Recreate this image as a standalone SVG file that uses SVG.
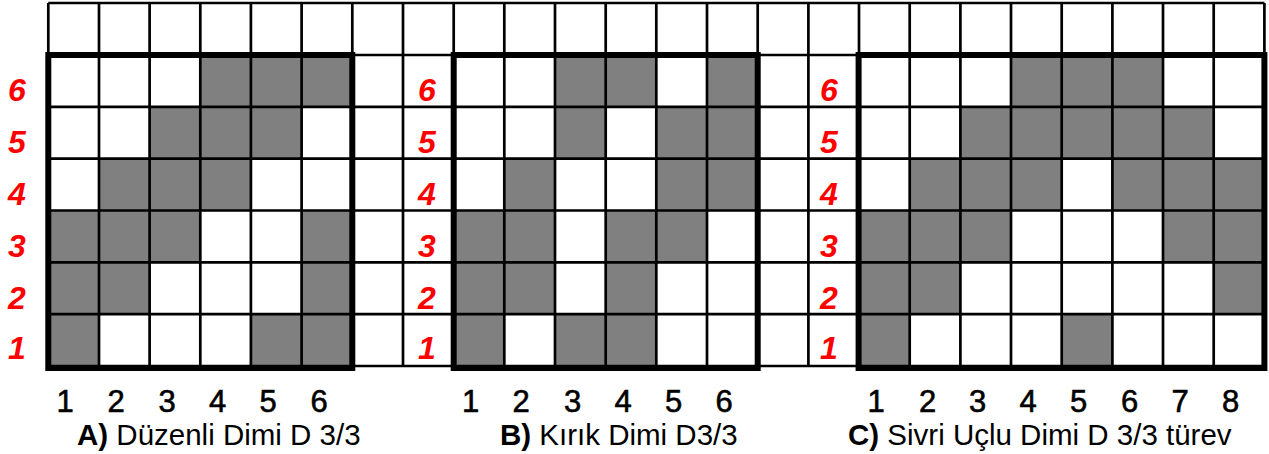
<svg xmlns="http://www.w3.org/2000/svg" width="1269" height="454" viewBox="0 0 1269 454">
<style>
.bg{fill:#ffffff}
.on{fill:#808080}
.grid{stroke:#000;stroke-width:2.7;fill:none}
.thick{stroke:#000;stroke-width:6;fill:none}
.rl{font-family:"Liberation Sans",Arial,sans-serif;font-size:32px;font-weight:bold;font-style:italic;fill:#ff0000;text-anchor:middle}
.cn{font-family:"Liberation Sans",Arial,sans-serif;font-size:31px;fill:#000;text-anchor:middle;stroke:#000;stroke-width:0.6}
.cap{font-family:"Liberation Sans",Arial,sans-serif;font-size:29.5px;fill:#000}
.b{font-weight:bold}
</style>
<rect class="bg" x="0" y="0" width="1269" height="454"/>

<g id="panelA">
  <rect class="on" x="200.3" y="55" width="152" height="51.8"/>
  <rect class="on" x="149.6" y="106.8" width="152" height="51.9"/>
  <rect class="on" x="99" y="158.7" width="152" height="51.8"/>
  <rect class="on" x="48.3" y="210.5" width="152" height="51.8"/>
  <rect class="on" x="301.6" y="210.5" width="50.7" height="51.8"/>
  <rect class="on" x="48.3" y="262.3" width="101.3" height="51.9"/>
  <rect class="on" x="301.6" y="262.3" width="50.7" height="51.9"/>
  <rect class="on" x="48.3" y="314.2" width="50.7" height="51.8"/>
  <rect class="on" x="250.9" y="314.2" width="101.4" height="51.8"/>
</g>

<g id="panelB">
  <rect class="on" x="555" y="55" width="101.3" height="51.8"/>
  <rect class="on" x="707" y="55" width="50.7" height="51.8"/>
  <rect class="on" x="555" y="106.8" width="50.7" height="51.9"/>
  <rect class="on" x="656.3" y="106.8" width="101.4" height="51.9"/>
  <rect class="on" x="504.3" y="158.7" width="50.7" height="51.8"/>
  <rect class="on" x="656.3" y="158.7" width="101.4" height="51.8"/>
  <rect class="on" x="453.7" y="210.5" width="101.3" height="51.8"/>
  <rect class="on" x="605.7" y="210.5" width="101.3" height="51.8"/>
  <rect class="on" x="453.7" y="262.3" width="101.3" height="51.9"/>
  <rect class="on" x="605.7" y="262.3" width="50.6" height="51.9"/>
  <rect class="on" x="453.7" y="314.2" width="50.6" height="51.8"/>
  <rect class="on" x="555" y="314.2" width="101.3" height="51.8"/>
</g>

<g id="panelC">
  <rect class="on" x="1010.4" y="55" width="152" height="51.8"/>
  <rect class="on" x="959.7" y="106.8" width="253.3" height="51.9"/>
  <rect class="on" x="909" y="158.7" width="152" height="51.8"/>
  <rect class="on" x="1111.7" y="158.7" width="152.7" height="51.8"/>
  <rect class="on" x="858.4" y="210.5" width="152" height="51.8"/>
  <rect class="on" x="1162.4" y="210.5" width="102" height="51.8"/>
  <rect class="on" x="858.4" y="262.3" width="101.3" height="51.9"/>
  <rect class="on" x="1213" y="262.3" width="51.4" height="51.9"/>
  <rect class="on" x="858.4" y="314.2" width="50.6" height="51.8"/>
  <rect class="on" x="1061" y="314.2" width="50.7" height="51.8"/>
</g>

<g id="grid">
  <path class="grid" d="M48.3 3H1264.4 M48.3 106.8H1264.4 M48.3 158.7H1264.4 M48.3 210.5H1264.4 M48.3 262.3H1264.4 M48.3 314.2H1264.4 M48.3 366H1264.4"/>
  <path class="grid" d="M48.3 3V366 M99 3V366 M149.6 3V366 M200.3 3V366 M250.9 3V366 M301.6 3V366 M352.3 3V366 M403 3V366 M453.7 3V366 M504.3 3V366 M555 3V366 M605.7 3V366 M656.3 3V366 M707 3V366 M757.7 3V366 M808.4 3V366 M859 3V366 M909.7 3V366 M960.4 3V366 M1011 3V366 M1061.7 3V366 M1112.4 3V366 M1163 3V366 M1213.7 3V366 M1264.4 3V366"/>
  <path class="grid" d="M48.3 55H1264.4"/>
</g>

<g id="frames">
  <rect class="thick" x="48.3" y="55" width="304" height="313"/>
  <rect class="thick" x="453.7" y="55" width="304" height="313"/>
  <rect class="thick" x="858.6" y="55" width="405.8" height="313"/>
</g>

<g id="rowlabels">
  <text class="rl" x="17" y="101">6</text>
  <text class="rl" x="17" y="153">5</text>
  <text class="rl" x="17" y="205">4</text>
  <text class="rl" x="17" y="257">3</text>
  <text class="rl" x="17" y="309">2</text>
  <text class="rl" x="17" y="359">1</text>
  <text class="rl" x="427" y="101">6</text>
  <text class="rl" x="427" y="153">5</text>
  <text class="rl" x="427" y="205">4</text>
  <text class="rl" x="427" y="257">3</text>
  <text class="rl" x="427" y="309">2</text>
  <text class="rl" x="427" y="359">1</text>
  <text class="rl" x="829" y="101">6</text>
  <text class="rl" x="829" y="153">5</text>
  <text class="rl" x="829" y="205">4</text>
  <text class="rl" x="829" y="257">3</text>
  <text class="rl" x="829" y="309">2</text>
  <text class="rl" x="829" y="359">1</text>
</g>

<g id="colnumbers">
  <text class="cn" x="65" y="412">1</text>
  <text class="cn" x="116" y="412">2</text>
  <text class="cn" x="167" y="412">3</text>
  <text class="cn" x="217.5" y="412">4</text>
  <text class="cn" x="268" y="412">5</text>
  <text class="cn" x="319" y="412">6</text>
  <text class="cn" x="470.5" y="412">1</text>
  <text class="cn" x="521" y="412">2</text>
  <text class="cn" x="572.5" y="412">3</text>
  <text class="cn" x="623" y="412">4</text>
  <text class="cn" x="673.5" y="412">5</text>
  <text class="cn" x="724" y="412">6</text>
  <text class="cn" x="876" y="412">1</text>
  <text class="cn" x="927.5" y="412">2</text>
  <text class="cn" x="977.5" y="412">3</text>
  <text class="cn" x="1028" y="412">4</text>
  <text class="cn" x="1078.5" y="412">5</text>
  <text class="cn" x="1129.5" y="412">6</text>
  <text class="cn" x="1180" y="412">7</text>
  <text class="cn" x="1230.5" y="412">8</text>
</g>

<g id="captions">
  <text class="cap" x="77" y="445"><tspan class="b">A)</tspan> Düzenli Dimi D 3/3</text>
  <text class="cap" x="500" y="445"><tspan class="b">B)</tspan> Kırık Dimi D3/3</text>
  <text class="cap" x="848" y="445"><tspan class="b">C)</tspan> Sivri Uçlu Dimi D 3/3 türev</text>
</g>
</svg>
